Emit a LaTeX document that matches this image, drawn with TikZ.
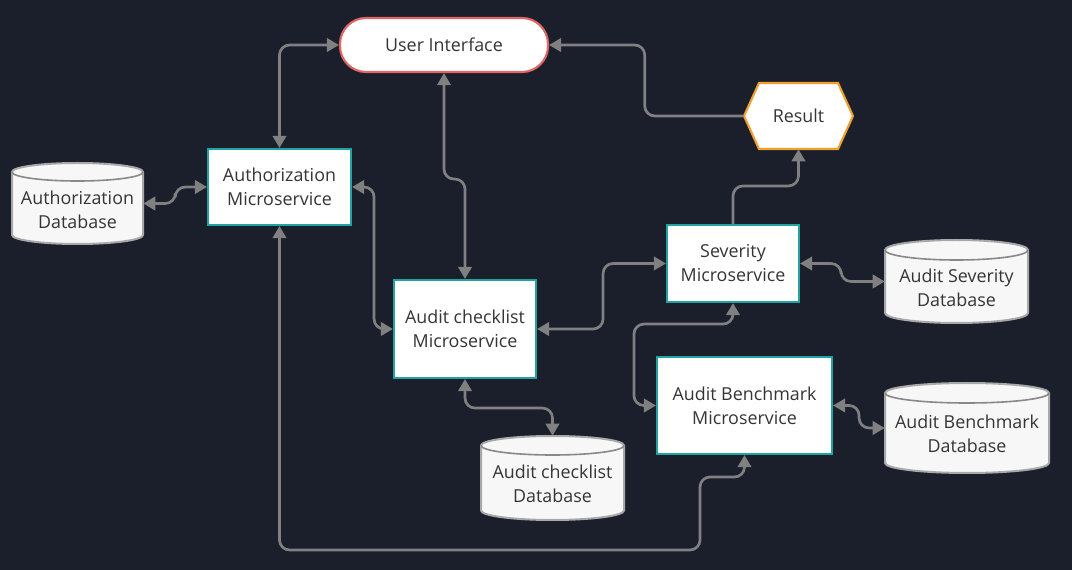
\documentclass[tikz,border=0pt]{standalone}
\usepackage{fontspec}
\setmainfont{Open Sans}
\usetikzlibrary{arrows.meta,calc}
\definecolor{bgnavy}{HTML}{1B1F2B}
\definecolor{msteal}{HTML}{21A3A3}
\definecolor{uired}{HTML}{E06666}
\definecolor{resorange}{HTML}{F0A030}
\definecolor{conngray}{HTML}{808080}
\definecolor{txtgray}{HTML}{353535}
\definecolor{dbfill}{HTML}{F7F7F7}
\definecolor{dbedge}{HTML}{A8A8A8}
\definecolor{dbinner}{HTML}{888888}
\newcommand\dbcyl[5]{%
  \filldraw[fill=dbfill,draw=dbedge,line width=1.5pt]
    (#1-#3,-#2+#4-#5) -- (#1-#3,-#2-#4+#5)
    arc[start angle=180,end angle=360,x radius=#3,y radius=#5]
    -- (#1+#3,-#2+#4-#5)
    arc[start angle=0,end angle=180,x radius=#3,y radius=#5] -- cycle;
  \draw[draw=dbinner,line width=1.2pt] (#1-#3,-#2+#4-#5)
    arc[start angle=180,end angle=360,x radius=#3,y radius=#5];
}
\begin{document}
\begin{tikzpicture}[x=0.75pt,y=0.75pt,
  every node/.style={font=\fontsize{13.4}{18}\selectfont, text=txtgray, align=center, inner sep=0pt},
  sz/.style 2 args={minimum width=#1*0.75pt, minimum height=#2*0.75pt},
  svc/.style={draw=msteal, fill=white, line width=1.6pt},
  uibox/.style={draw=uired, fill=white, line width=1.6pt, rounded corners=26*0.75pt},
  conn/.style={draw=conngray, line width=2pt, rounded corners=7.5pt,
    >={Triangle[length=9pt,width=10pt]}},
  arr/.style={conn,->},
  biarr/.style={conn,<->}]
\fill[bgnavy] (0,0) rectangle (1072,-570);
\useasboundingbox (0,0) rectangle (1072,-570);

% shapes drawn directly
\filldraw[fill=white,draw=resorange,line width=1.6pt]
  (744,-116) -- (759,-83) -- (838,-83) -- (853,-116) -- (838,-149) -- (759,-149) -- cycle;
\dbcyl{77.5}{203.5}{65.5}{40.5}{9}
\dbcyl{552.5}{478}{71.5}{42}{9.5}
\dbcyl{956.5}{281.5}{71.5}{41.5}{10}
\dbcyl{967}{428}{82}{45}{10}

% nodes
\node[uibox, sz={208}{54}] (ui) at (444,-45) {User Interface};
\node[sz={109}{66}] (res) at (798.5,-116) {Result};
\node[svc, sz={143}{76}] (authms) at (279.5,-187) {Authorization\\Microservice};
\node[svc, sz={142}{98}] (acms) at (465,-329) {Audit checklist\\Microservice};
\node[svc, sz={132}{77}] (sevms) at (733,-263.5) {Severity\\Microservice};
\node[svc, sz={175}{97}] (bmms) at (744.5,-405.5) {Audit Benchmark\\Microservice};

\node[sz={131}{81}] (authdb) at (77.5,-203.5) {};
\node (authdbt) at ([yshift=-6*0.75pt]authdb.center) {Authorization\\Database};
\node[sz={143}{84}] (acdb) at (552.5,-478) {};
\node (acdbt) at ([yshift=-6*0.75pt]acdb.center) {Audit checklist\\Database};
\node[sz={143}{83}] (sevdb) at (956.5,-281.5) {};
\node (sevdbt) at ([yshift=-6*0.75pt]sevdb.center) {Audit Severity\\Database};
\node[sz={164}{90}] (bmdb) at (967,-428) {};
\node (bmdbt) at ([yshift=-6*0.75pt]bmdb.center) {Audit Benchmark\\Database};

% connectors
\draw[biarr] (authms.north) |- (ui.west);
\draw[biarr] (ui.south) -- ++(0,-106) -| (acms.north);
\draw[arr] (res.west) -- ++(-99,0) |- (ui.east);
\draw[arr] (sevms.north) -- ++(0,38) -| (res.south);
\draw[biarr] (authdb.east) -- ++(32,0) |- (authms.west);
\draw[biarr] (authms.east) -- ++(22,0) |- (acms.west);
\draw[biarr] (acms.east) -- ++(66,0) |- (sevms.west);
\draw[biarr] (sevms.east) -- ++(41,0) |- (sevdb.west);
\draw[biarr] (acms.south) -- ++(0,-29) -| (acdb.north);
\draw[biarr] (sevms.south) -- ++(0,-21) -| ([xshift=-22*0.75pt]bmms.west) -- (bmms.west);
\draw[biarr] (bmms.east) -- ++(26,0) |- (bmdb.west);
\draw[biarr] (authms.south) |- (700,-550) -- (700,-477) -| (bmms.south);
\end{tikzpicture}
\end{document}
